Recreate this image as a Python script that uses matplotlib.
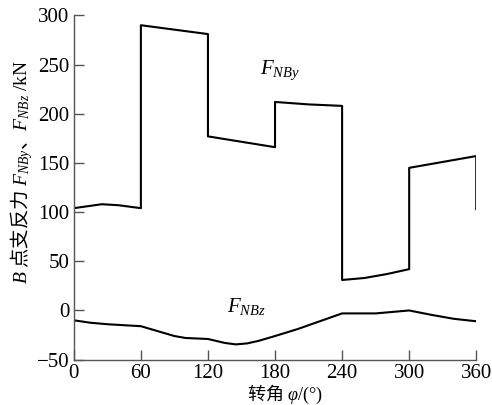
import matplotlib
matplotlib.use("Agg")
import matplotlib.pyplot as plt

plt.rcParams['font.family'] = ['Liberation Serif', 'Noto Sans CJK SC']
plt.rcParams['mathtext.fontset'] = 'custom'
plt.rcParams['mathtext.rm'] = 'Liberation Serif'
plt.rcParams['mathtext.it'] = 'Liberation Serif:italic'
plt.rcParams['mathtext.sf'] = 'Liberation Serif'

# F_NBy (step-like, vertical jumps at 60/120/180/240/300/360)
y_angle = [0, 25, 40, 60, 60, 120, 120, 180, 180, 210, 240, 240, 260, 280, 300, 300, 360, 360]
y_force = [104, 108, 107, 104, 290, 281, 177, 166, 212, 209.5, 208, 31, 33, 37, 42, 145, 157, 103]

# F_NBz
z_angle = [0, 15, 30, 45, 60, 75, 90, 100, 120, 135, 145, 155, 165, 180, 200, 220, 240, 270, 300, 320, 340, 360]
z_force = [-10, -12.5, -14, -15, -16, -21, -26, -28, -29, -33, -34.5, -33.5, -31, -26, -19, -11, -3, -3, 0, -4.5, -8.5, -11]

fig = plt.figure(figsize=(4.92, 4.05), dpi=100)
ax = fig.add_axes([0.150, 0.112, 0.818, 0.850])

ax.plot(y_angle, y_force, color='black', lw=1.5)
ax.plot(z_angle, z_force, color='black', lw=1.5)

ax.set_xlim(0, 360)
ax.set_ylim(-50, 300)
ax.set_xticks([0, 60, 120, 180, 240, 300, 360])
ax.set_yticks([-50, 0, 50, 100, 150, 200, 250, 300])
ax.set_yticklabels(['\u221250', '0', '50', '100', '150', '200', '250', '300'])

for s in ['top', 'right']:
    ax.spines[s].set_visible(False)
for s in ['left', 'bottom']:
    ax.spines[s].set_color('#555555')
    ax.spines[s].set_linewidth(1.0)
ax.tick_params(direction='in', length=7, width=1.0, color='#555555',
               labelsize=15, pad=3)

ax.text(167, 240, r'$F_{NBy}$', fontsize=15)
ax.text(137, -2, r'$F_{NBz}$', fontsize=15)

# CJK labels: the label's own font is the CJK one, math parts use serif
ax.set_xlabel(r'转角 $\varphi\mathsf{/(°)}$', fontsize=13, va='center',
              fontfamily='Noto Sans CJK SC')
ax.xaxis.set_label_coords(0.525, -0.1)
ax.set_ylabel(r'$B$ 点支反力 $F_{NBy}$、$F_{NBz}\mathsf{\ /kN}$', fontsize=14,
              va='center', fontfamily='Noto Sans CJK SC')
ax.yaxis.set_label_coords(-0.13, 0.545)

fig.savefig('out.png', dpi=100)
